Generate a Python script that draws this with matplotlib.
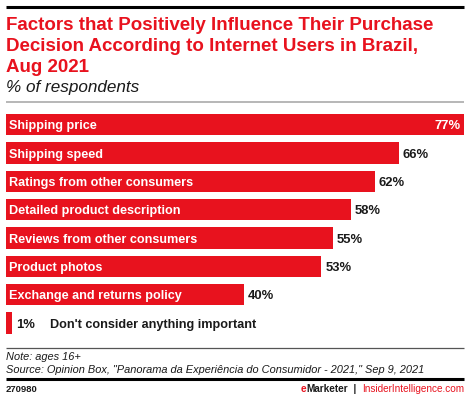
import matplotlib
matplotlib.use("Agg")
import matplotlib.pyplot as plt
from matplotlib.lines import Line2D

categories = [
    "Shipping price",
    "Shipping speed",
    "Ratings from other consumers",
    "Detailed product description",
    "Reviews from other consumers",
    "Product photos",
    "Exchange and returns policy",
    "Don't consider anything important",
]
values = [77, 66, 62, 58, 55, 53, 40, 1]

RED = "#e8121e"
INK = "#1a1a1a"
FONT = "Liberation Sans"

W, H = 470, 399
fig = plt.figure(figsize=(W / 100, H / 100), dpi=100)


def fx(px):
    return px / W


def fy(py):
    return 1 - py / H


def hline(y, color, lw, x0=6, x1=464):
    fig.add_artist(Line2D([fx(x0), fx(x1)], [fy(y), fy(y)], color=color, lw=lw,
                          transform=fig.transFigure, solid_capstyle="butt"))


# header
hline(6.5, "black", 2.2)
title_lines = [
    "Factors that Positively Influence Their Purchase",
    "Decision According to Internet Users in Brazil,",
    "Aug 2021",
]
for i, line in enumerate(title_lines):
    fig.text(fx(6), fy(30 + 21 * i), line, color=RED, fontsize=13.5,
             fontweight="bold", family=FONT, va="baseline", ha="left")
fig.text(fx(6), fy(92), "% of respondents", color=INK, fontsize=12.3,
         style="italic", family=FONT, va="baseline", ha="left")
hline(101.5, "#aaaaaa", 1.2)

# bars
ax = fig.add_axes([fx(6), fy(337.3), fx(464) - fx(6), fy(110.5) - fy(337.3)])
ypos = list(range(len(categories)))
ax.barh(ypos, values, height=0.75, color=RED, edgecolor="none")
ax.set_xlim(0, 77)
ax.set_ylim(len(categories) - 0.5, -0.5)
ax.axis("off")

px_per_unit = (464 - 6) / 77
LBL = dict(fontsize=9.1, fontweight="bold", family=FONT, va="center_baseline")
VAL = dict(fontsize=9.4, fontweight="bold", family=FONT, va="center_baseline")
for y, cat, v in zip(ypos, categories, values):
    if v >= 70:
        ax.text(v - 3 / px_per_unit, y, f"{v}%", color="white", ha="right", **VAL)
        ax.text(3 / px_per_unit, y, cat, color="white", ha="left", **LBL)
    elif v >= 10:
        ax.text(v + 4 / px_per_unit, y, f"{v}%", color=INK, ha="left", **VAL)
        ax.text(3 / px_per_unit, y, cat, color="white", ha="left", **LBL)
    else:
        ax.text(v + 4 / px_per_unit, y, f"{v}%", color=INK, ha="left", **VAL)
        ax.text(v + 38 / px_per_unit, y, cat, color=INK, ha="left", **LBL)

# notes
hline(347.5, "#555555", 0.9)
fig.text(fx(6), fy(360), "Note: ages 16+", color=INK, fontsize=7.9,
         style="italic", family=FONT, va="baseline", ha="left")
fig.text(fx(6), fy(373),
         "Source: Opinion Box, \"Panorama da Experiência do Consumidor - 2021,\" Sep 9, 2021",
         color=INK, fontsize=7.9, style="italic", family=FONT, va="baseline", ha="left")
hline(379, "black", 2.2)

# footer
base_px = fy(392) * H
fig.text(fx(6), fy(392), "270980", color=INK, fontsize=6.8, fontweight="bold",
         family=FONT, va="baseline", ha="left")
pieces = [
    ("InsiderIntelligence.com", RED, "normal"),
    ("  |  ", INK, "bold"),
    ("Marketer", INK, "bold"),
    ("e", RED, "bold"),
]
renderer = fig.canvas.get_renderer()
x_right = 464
for txt, col, wt in pieces:
    t = fig.text(x_right, base_px, txt, color=col, fontsize=7.2, fontweight=wt,
                 family=FONT, va="baseline", ha="right", transform=None)
    x_right = t.get_window_extent(renderer).x0

fig.savefig("out.png", dpi=100)
